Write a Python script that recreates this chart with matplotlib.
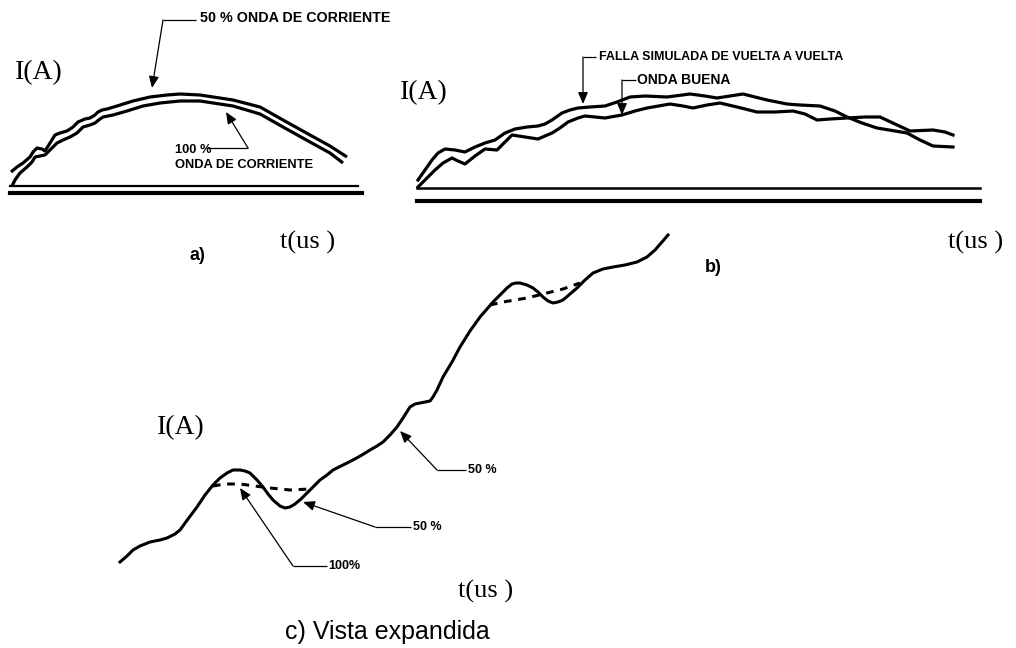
import matplotlib
matplotlib.use("Agg")
import matplotlib.pyplot as plt

# ---- panel a: 50 % and 100 % current waves (pixel coords of the sketch)
a50_x = [11, 17, 23, 30, 33, 37, 42, 45, 50, 55, 60, 67, 73, 78, 85, 90, 95, 98, 102, 107, 117, 133, 150, 167, 180,
         200, 233, 260, 283, 310, 330, 347]
a50_y = [172, 167, 163, 157, 152, 148, 149, 151, 143, 135, 133, 131, 127, 122, 119, 118, 115, 112, 110, 109, 106, 101,
         97, 95, 94, 95, 100, 107, 120, 135, 146, 157]
a100_x = [12, 15, 20, 27, 32, 35, 40, 45, 50, 57, 63, 70, 77, 83, 90, 95, 100, 103, 113, 127, 143, 160, 180,
          200, 233, 260, 283, 310, 330, 343]
a100_y = [186, 180, 173, 167, 162, 157, 156, 155, 150, 143, 140, 137, 133, 127, 125, 123, 119, 117, 115, 111, 106, 103,
          101, 101, 106, 114, 127, 142, 153, 163]

# ---- panel b: simulated turn-to-turn fault and good wave
bf_x = [418, 425, 432, 438, 445, 455, 465, 475, 485, 495, 505, 515, 527, 538, 545, 552, 562, 570, 578, 590, 605, 617,
        630, 645, 667, 690, 705, 717, 730, 743, 755, 767, 787, 800, 820, 835, 847, 862, 877, 895, 907, 920, 933, 953]
bf_y = [180, 170, 160, 153, 149, 150, 152, 147, 143, 140, 133, 129, 127, 126, 124, 120, 113, 110, 108, 107, 106, 102,
        97, 96, 97, 94, 96, 98, 96, 94, 97, 100, 104, 105, 106, 111, 117, 123, 128, 131, 133, 140, 146, 147]
bg_x = [418, 427, 435, 443, 452, 458, 465, 475, 485, 497, 505, 512, 525, 538, 552, 560, 568, 578, 585, 595, 605, 622,
        635, 647, 670, 683, 693, 707, 720, 737, 757, 775, 793, 805, 817, 830, 847, 865, 880, 895, 910, 933, 945, 953]
bg_y = [187, 178, 170, 163, 158, 161, 164, 156, 149, 150, 142, 135, 137, 139, 133, 128, 122, 118, 116, 117, 118, 115,
        111, 108, 104, 106, 108, 105, 103, 107, 112, 112, 111, 114, 120, 119, 118, 117, 117, 124, 131, 130, 132, 135]

# ---- panel c: expanded view
c_x = [120, 127, 133, 140, 150, 160, 167, 175, 180, 188, 197, 205, 213, 220, 227, 233, 240, 245, 250, 257, 263, 268,
       273, 280, 285, 290, 295, 301, 307, 313, 320, 327, 333, 343, 353, 362, 370, 377, 383, 390, 397, 403, 410, 415,
       420, 425, 430, 433, 437, 443, 452, 460, 470, 480, 487, 493, 500, 507, 512, 516, 520, 527, 533, 538, 543, 548,
       553, 558, 563, 570, 577, 585, 593, 603, 613, 625, 637, 647, 655, 662, 668]
c_y = [562, 556, 550, 546, 542, 540, 538, 534, 530, 519, 507, 495, 485, 478, 473, 470, 470, 471, 473, 480, 487, 494,
       500, 506, 508, 507, 504, 499, 493, 487, 480, 475, 470, 465, 460, 455, 450, 446, 442, 435, 427, 418, 407, 404,
       403, 402, 401, 397, 390, 377, 362, 347, 331, 317, 309, 302, 295, 288, 284, 283, 283, 285, 288, 292, 297, 301,
       303, 302, 300, 294, 288, 280, 273, 269, 267, 265, 262, 257, 250, 242, 235]
c100_x = [213, 225, 240, 255, 270, 290, 310]
c100_y = [486, 484, 484, 486, 488, 490, 489]
c100b_x = [490, 503, 527, 543, 563, 580]
c100b_y = [305, 302, 298, 294, 289, 283]

fig = plt.figure(figsize=(10.16, 6.48), dpi=100)
ax = fig.add_axes([0, 0, 1, 1])
ax.set_xlim(0, 1016)
ax.set_ylim(648, 0)
ax.axis('off')

K = 'black'
sans = 'Liberation Sans'
serif = 'Liberation Serif'


def leader(elbow, end, tip):
    ax.plot([elbow[0], end[0]], [elbow[1], end[1]], color=K, lw=0.9, solid_capstyle='butt')
    ax.annotate('', xy=tip, xytext=elbow,
                arrowprops=dict(arrowstyle='-|>,head_length=0.7,head_width=0.3', color=K, lw=0.9,
                                shrinkA=0, shrinkB=0))


# panel a
ax.plot(a50_x, a50_y, color=K, lw=2.3, solid_joinstyle='round', solid_capstyle='butt')
ax.plot(a100_x, a100_y, color=K, lw=2.3, solid_joinstyle='round', solid_capstyle='butt')
ax.plot([10, 358], [186, 186], color=K, lw=1.6)
ax.plot([10, 362], [193, 193], color=K, lw=3)
ax.text(15, 73, 'I(A)', family=serif, fontsize=20, va='center', ha='left')
ax.text(200, 18, '50 % ONDA DE CORRIENTE', family=sans, weight='bold', fontsize=10.3, va='center')
leader((163, 20), (196, 20), (152, 88))
ax.text(175, 150, '100 %', family=sans, weight='bold', fontsize=9.3, va='center')
ax.text(175, 165, 'ONDA DE CORRIENTE', family=sans, weight='bold', fontsize=9.3, va='center')
leader((248, 148), (206, 148), (226, 112))
ax.text(197, 255, 'a)', family=sans, weight='bold', fontsize=13, va='center', ha='center')
ax.text(280, 242, 't(us )', family=serif, fontsize=19, va='center')

# panel b
ax.plot(bf_x, bf_y, color=K, lw=2.3, solid_joinstyle='round')
ax.plot(bg_x, bg_y, color=K, lw=2.3, solid_joinstyle='round')
ax.plot([417, 980], [188, 188], color=K, lw=1.8)
ax.plot([417, 980], [201, 201], color=K, lw=3)
ax.text(400, 93, 'I(A)', family=serif, fontsize=20, va='center', ha='left')
ax.text(599, 57, 'FALLA SIMULADA DE VUELTA A VUELTA', family=sans, weight='bold', fontsize=9, va='center')
leader((583, 57), (596, 57), (583, 104))
ax.text(637, 80, 'ONDA BUENA', family=sans, weight='bold', fontsize=10, va='center')
leader((622, 80), (636, 80), (622, 115))
ax.text(713, 268, 'b)', family=sans, weight='bold', fontsize=13, va='center', ha='center')
ax.text(948, 242, 't(us )', family=serif, fontsize=19, va='center')

# panel c
ax.plot(c_x, c_y, color=K, lw=2.2, solid_joinstyle='round')
ax.plot(c100_x, c100_y, color=K, lw=2.2, ls=(0, (2.5, 2.2)))
ax.plot(c100b_x, c100b_y, color=K, lw=2.2, ls=(0, (2.5, 2.2)))
ax.text(157, 428, 'I(A)', family=serif, fontsize=20, va='center', ha='left')
leader((437, 470), (466, 470), (400, 431))
ax.text(468, 470, '50 %', family=sans, weight='bold', fontsize=9, va='center')
leader((375, 527), (411, 527), (303, 502))
ax.text(413, 527, '50 %', family=sans, weight='bold', fontsize=9, va='center')
leader((293, 566), (327, 566), (240, 488))
ax.text(328, 566, '100%', family=sans, weight='bold', fontsize=9, va='center')
ax.text(458, 591, 't(us )', family=serif, fontsize=19, va='center')
ax.text(285, 632, 'c) Vista expandida', family=sans, fontsize=18, va='center')

fig.savefig('out.png', dpi=100)
